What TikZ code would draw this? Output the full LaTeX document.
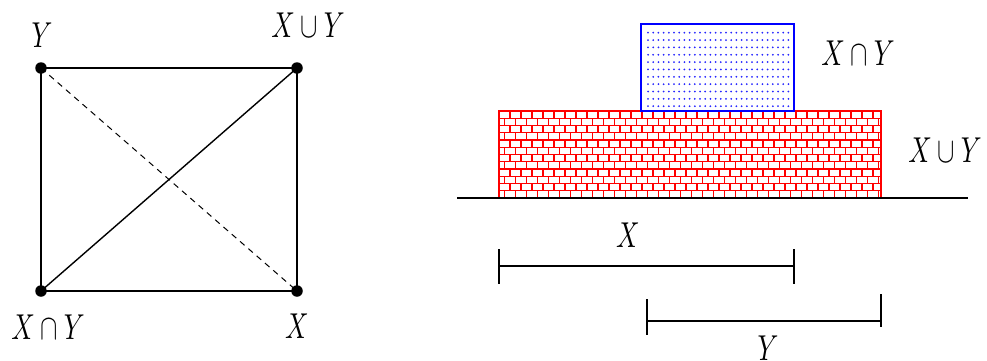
\documentclass[tikz,border=0pt]{standalone}
\usepackage{graphicx}
\newcommand{\lbl}[1]{\scalebox{2.6}[3.6]{$#1$}}
\begin{document}
\begin{tikzpicture}[x=1pt,y=-1pt,
  dot/.style={circle,fill=black,inner sep=0pt,minimum size=11.5pt},
  lab/.style={inner sep=0pt},
  edge/.style={line width=1.4pt},
  tick/.style={line width=1.2pt}]
\useasboundingbox (0,0) rectangle (987,360);
% left graph
\node[dot] (y) at (41,68) {};
\node[dot] (u) at (297,68) {};
\node[dot] (i) at (41,291) {};
\node[dot] (x) at (297,291) {};
\draw[edge] (y.center) -- (u.center) -- (x.center) -- (i.center) -- (y.center);
\draw[edge] (i.center) -- (u.center);
\draw[line width=1pt,dash pattern=on 6pt off 5pt] (y.center) -- (x.center);
\node[lab] (ly) at (42,35) {\lbl{Y}};
\node[lab] (lu) at (308,25) {\lbl{X\cup Y}};
\node[lab] (li) at (48,327) {\lbl{X\cap Y}};
\node[lab] (lx) at (297,326) {\lbl{X}};
% right: bricks
\begin{scope}
\clip (499,111) rectangle (881,198);
\foreach \i in {0,...,11} {
  \pgfmathsetmacro\yy{111+\i*7.25}
  \pgfmathsetmacro\yb{\yy+7.25}
  \pgfmathsetmacro\off{mod(\i,2)*5.5}
  \draw[red,line width=1.4pt] (499,\yy) -- (881,\yy);
  \foreach \k in {0,...,35} {
    \draw[red,line width=1.3pt] (499+\off+\k*11,\yy) -- (499+\off+\k*11,\yb);
  }
}
\end{scope}
\node[draw=red,line width=1.4pt,minimum width=382pt,minimum height=87pt,inner sep=0pt] (union) at (690,154.5) {};
% dotted rectangle
\foreach \r in {0,...,10} {
  \foreach \c in {0,...,27} {
    \fill[blue!85] (648+\c*5.2,32.7+\r*7.35) circle (1pt);
  }
}
\node[draw=blue,line width=1.4pt,minimum width=153pt,minimum height=87pt,inner sep=0pt] (inter) at (717.5,67.5) {};
% base line
\coordinate (b1) at (457,198);
\coordinate (b2) at (968,198);
\draw[line width=1.4pt] (b1) -- (b2);
\node[lab] (rli) at (858,53) {\lbl{X\cap Y}};
\node[lab] (rlu) at (945,150) {\lbl{X\cup Y}};
% intervals
\coordinate (xa) at (499,266);
\coordinate (xb) at (794,266);
\draw[tick] (xa) -- (xb);
\draw[tick] ([yshift=17pt]xa) -- ([yshift=-18pt]xa);
\draw[tick] ([yshift=17pt]xb) -- ([yshift=-18pt]xb);
\node[lab] (lxi) at (628,235) {\lbl{X}};
\coordinate (ya) at (647,321);
\coordinate (yb) at (881,321);
\draw[tick] (ya) -- (yb);
\draw[tick] ([yshift=22pt]ya) -- ([yshift=-14pt]ya);
\draw[tick] ([yshift=27pt]yb) -- ([yshift=-6pt]yb);
\node[lab] (lyi) at (768,348) {\lbl{Y}};
\end{tikzpicture}
\end{document}
